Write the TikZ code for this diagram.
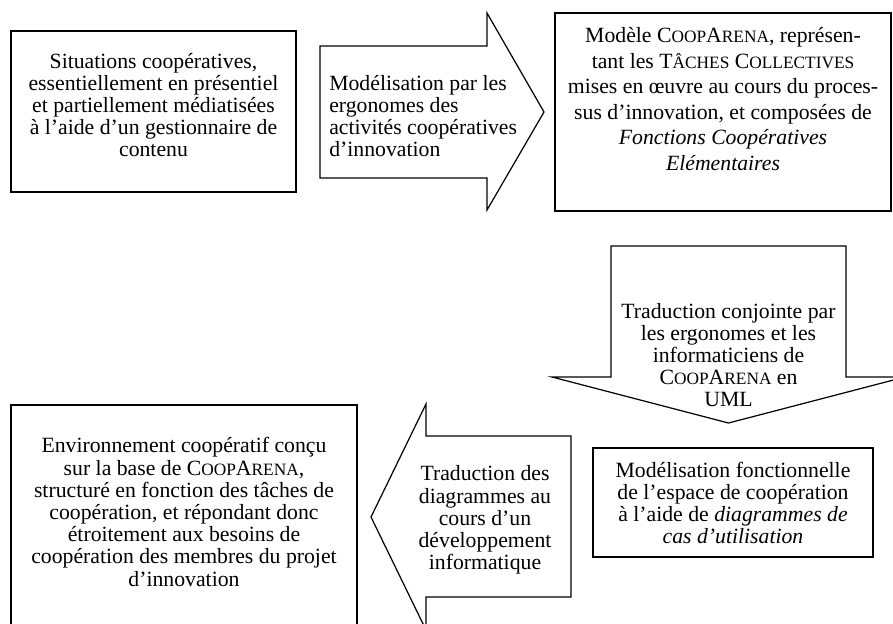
\documentclass[tikz,border=0pt]{standalone}
\usepackage{fontspec}
\setmainfont{Liberation Serif}
\usepackage{tikz}
\newcommand{\petit}[1]{{\fontsize{11.4}{12}\selectfont #1}}
\newcommand{\coop}{C\petit{OOP}A\petit{RENA}}

\begin{document}
\begin{tikzpicture}[
    x = 0.658pt, y = -0.658pt,
    cadre/.style = {line width = 0.8pt},
    texte/.style = {align = center, inner sep = 0pt, font = \fontsize{14.3}{14.6}\selectfont},
]

\useasboundingbox (0,0) rectangle (893,623);
\clip (0,0) rectangle (893,623);

% situations de depart
\draw[cadre] (11,31) rectangle (296,192);
\node[texte] (situations) at (153.5,105) {Situations coopératives,\\ essentiellement en présentiel\\ et partiellement médiatisées\\ à l’aide d’un gestionnaire de\\ contenu};

% fleche vers la droite
\draw[cadre] (320,46) -- (487,46) -- (487,13) -- (544,112) -- (487,210) -- (487,178) -- (320,178) -- cycle;
\node[texte, align = left, anchor = west] (modelisation) at (329,116) {Modélisation par les\\ ergonomes des\\ activités coopératives\\ d’innovation};

% modele
\draw[cadre] (555,13) rectangle (891,211);
\node[texte, font = \fontsize{14.3}{16.8}\selectfont] (modele) at (723,99) {Modèle \coop, représen-\\ tant les T\petit{ÂCHES} C\petit{OLLECTIVES}\\ mises en œuvre au cours du proces-\\ sus d’innovation, et composées de\\ \textit{Fonctions Coopératives}\\ \textit{Elémentaires}};

% fleche vers le bas
\draw[cadre] (611,246) -- (846,246) -- (846,377) -- (905,377) -- (728.5,423) -- (552,377) -- (611,377) -- cycle;
\node[texte] (traduction) at (728.5,355) {Traduction conjointe par\\ les ergonomes et les\\ informaticiens de\\ \coop{} en\\ UML};

% modelisation fonctionnelle
\draw[cadre] (593,448) rectangle (873,557);
\node[texte] (fonctionnelle) at (733,503) {Modélisation fonctionnelle\\ de l’espace de coopération\\ à l’aide de \textit{diagrammes de}\\ \textit{cas d’utilisation}};

% fleche vers la gauche
\draw[cadre] (571,436) -- (426,436) -- (426,404) -- (371,517) -- (426,630) -- (426,597) -- (571,597) -- cycle;
\node[texte] (developpement) at (485,520) {Traduction des\\ diagrammes au\\ cours d’un\\ développement\\ informatique};

% environnement
\draw[cadre] (11,405) rectangle (357,650);
\node[texte] (environnement) at (184,512) {Environnement coopératif conçu\\ sur la base de \coop,\\ structuré en fonction des tâches de\\ coopération, et répondant donc\\ étroitement aux besoins de\\ coopération des membres du projet\\ d’innovation};

\end{tikzpicture}
\end{document}
